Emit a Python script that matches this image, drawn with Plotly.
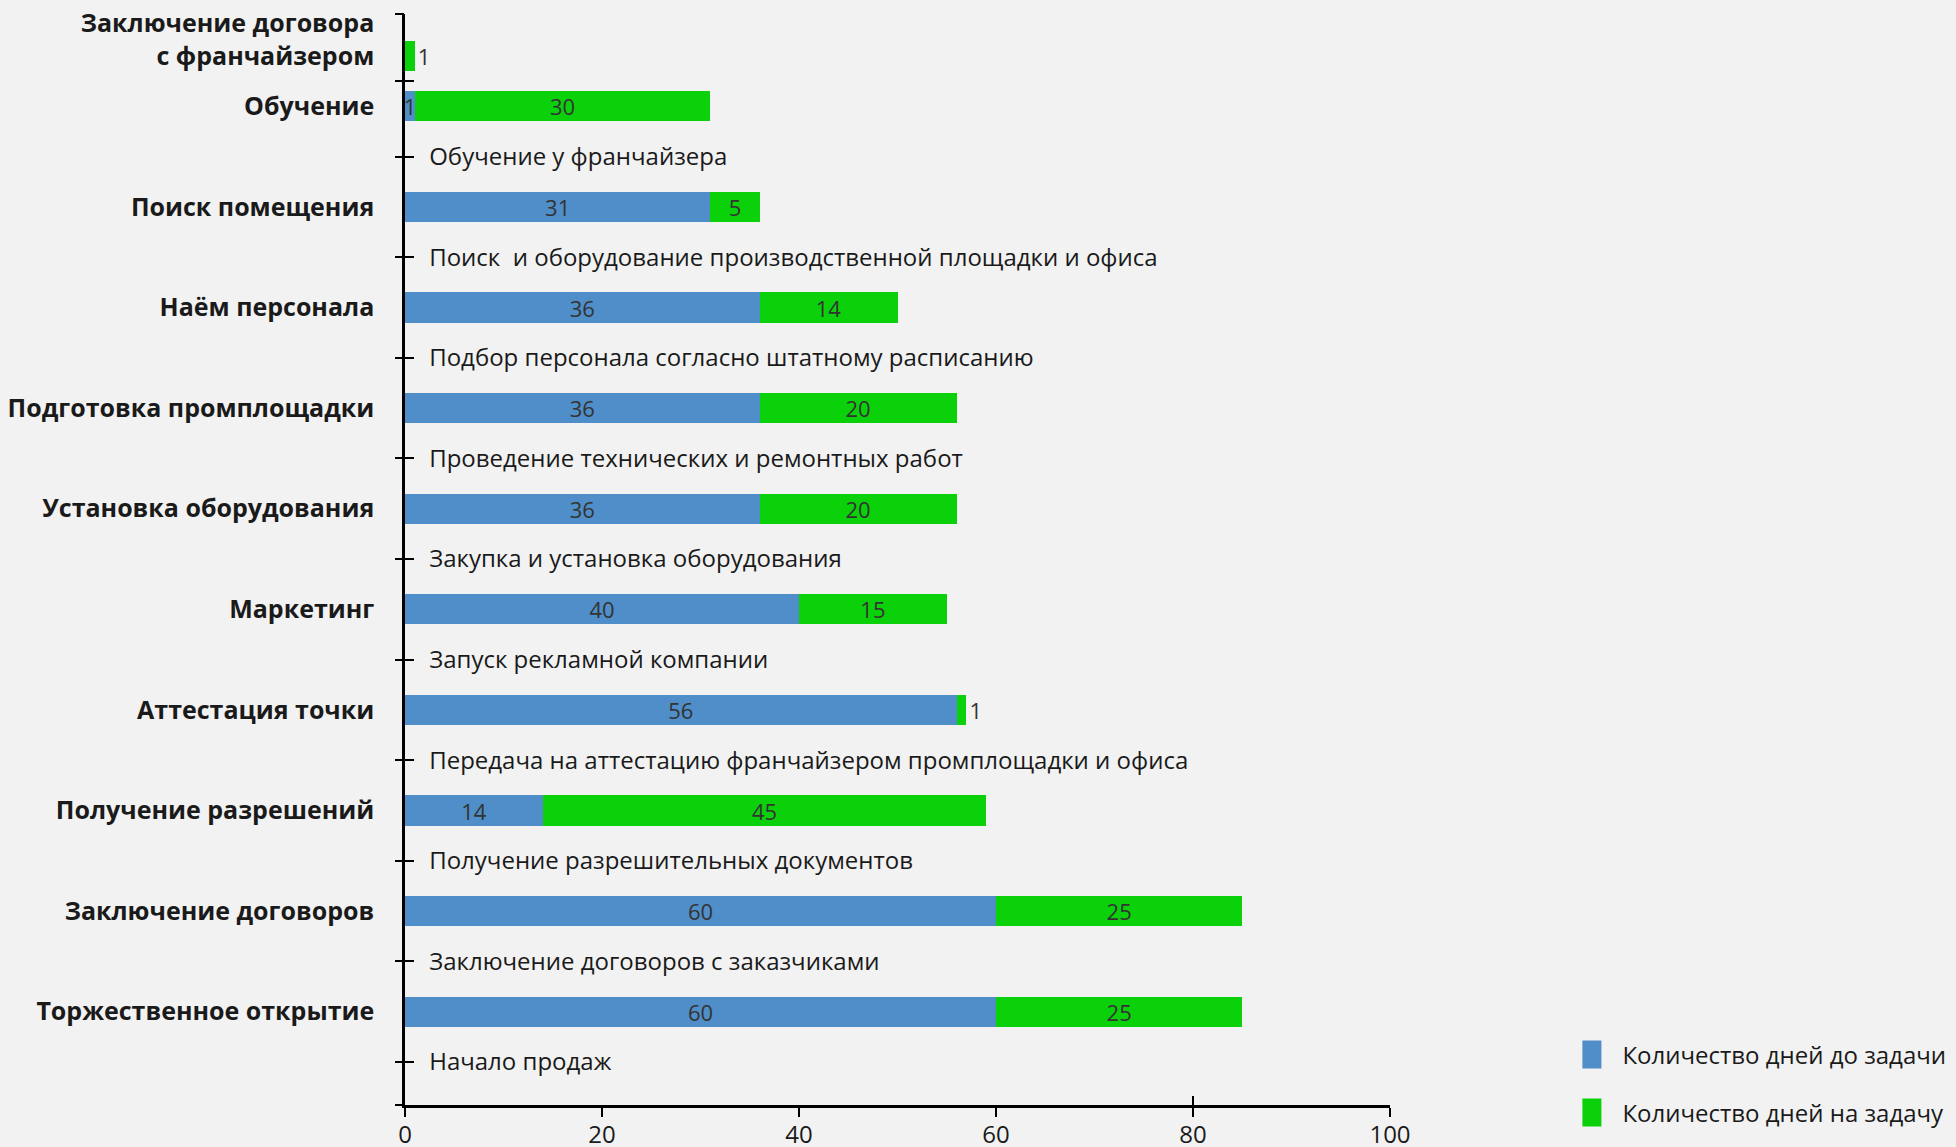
import plotly.graph_objects as go

# Franchise launch plan: tasks, what happens at each step, and day counts
tasks = [
    "Заключение договора<br>с франчайзером",
    "Обучение",
    "Поиск помещения",
    "Наём персонала",
    "Подготовка промплощадки",
    "Установка оборудования",
    "Маркетинг",
    "Аттестация точки",
    "Получение разрешений",
    "Заключение договоров",
    "Торжественное открытие",
]
steps = [
    "",
    "Обучение у франчайзера",
    "Поиск  и оборудование производственной площадки и офиса",
    "Подбор персонала согласно штатному расписанию",
    "Проведение технических и ремонтных работ",
    "Закупка и установка оборудования",
    "Запуск рекламной компании",
    "Передача на аттестацию франчайзером промплощадки и офиса",
    "Получение разрешительных документов",
    "Заключение договоров с заказчиками",
    "Начало продаж",
]
days_before = [0, 1, 31, 36, 36, 36, 40, 56, 14, 60, 60]
days_on = [1, 30, 5, 14, 20, 20, 15, 1, 45, 25, 25]
x_ticks = [0, 20, 40, 60, 80, 100]

BLUE = "#4F8EC9"
GREEN = "#0BD10B"
INK = "#1a1a1a"
VALUE_INK = "#333333"
FONT = "Open Sans"

# every task row is followed by a row for its step description;
# a task without a description gets only a tick just below its bar
rows = []
for task, step in zip(tasks, steps):
    rows.append(task)
    if step:
        rows.append(step)

step_ticks = [
    rows.index(step) if step else rows.index(task) + 0.5
    for task, step in zip(tasks, steps)
]
y_range = [len(rows) - 0.145, -0.835]


def task_label(name):
    # two-line names sit a little higher, clear of the row below
    text = f"<b>{name}</b>"
    return text + "<br> " if "<br>" in name else text


cat_axis = dict(
    type="category",
    categoryorder="array",
    categoryarray=rows,
    range=y_range,
    showgrid=False,
    zeroline=False,
    automargin=False,
    fixedrange=True,
)


def labels(values):
    return [str(v) if v else "" for v in values]


fig = go.Figure()

fig.add_trace(go.Bar(
    orientation="h",
    y=tasks,
    x=days_before,
    name="Количество дней до задачи",
    legendgroup="before",
    marker=dict(color=BLUE, line=dict(width=0)),
    text=labels(days_before),
    textposition="inside",
    insidetextanchor="middle",
    textangle=0,
    constraintext="none",
    textfont=dict(family=FONT, size=22, color=VALUE_INK),
    hoverinfo="skip",
))
fig.add_trace(go.Bar(
    orientation="h",
    y=tasks,
    x=days_on,
    name="Количество дней на задачу",
    legendgroup="on",
    marker=dict(color=GREEN, line=dict(width=0)),
    text=labels(days_on),
    textposition="auto",
    insidetextanchor="middle",
    textangle=0,
    constraintext="none",
    textfont=dict(family=FONT, size=22, color=VALUE_INK),
    hoverinfo="skip",
))

# carriers for the overlaid tick axes (nothing visible)
described = [s for s in steps if s]
fig.add_trace(go.Scatter(
    x=[0] * len(described), y=described, xaxis="x", yaxis="y2",
    mode="markers", marker=dict(opacity=0), showlegend=False, hoverinfo="skip",
))
fig.add_trace(go.Scatter(
    x=[0] * len(described), y=described, xaxis="x2", yaxis="y3",
    mode="markers", marker=dict(opacity=0), showlegend=False, hoverinfo="skip",
))

fig.update_layout(
    template="none",
    width=1956,
    height=1147,
    margin=dict(l=405, r=566, t=14, b=42, pad=0),
    paper_bgcolor="#f2f2f2",
    plot_bgcolor="rgba(0,0,0,0)",
    font=dict(family=FONT, size=25, color=INK),
    barmode="stack",
    bargap=0.4,
    showlegend=True,
    legend=dict(
        xref="container", yref="container",
        x=0.809, xanchor="left",
        y=0.1, yanchor="top",
        traceorder="grouped",
        tracegroupgap=24,
        bgcolor="rgba(0,0,0,0)",
        font=dict(family=FONT, size=24, color=INK),
    ),
    xaxis=dict(
        range=[0, 100],
        tickmode="array",
        tickvals=x_ticks,
        ticks="outside", ticklen=9, tickwidth=2, tickcolor="black",
        ticklabelstandoff=-3,
        showline=True, linecolor="black", linewidth=2.5,
        showgrid=False, zeroline=False, automargin=False, fixedrange=True,
        tickfont=dict(family=FONT, size=24, color=INK),
        anchor="y",
    ),
    xaxis2=dict(
        range=[0, 100],
        overlaying="x",
        anchor="y",
        side="bottom",
        tickmode="array",
        tickvals=x_ticks,
        ticks="inside", ticklen=9, tickwidth=2, tickcolor="black",
        showticklabels=False,
        showline=False, showgrid=False, zeroline=False,
        automargin=False, fixedrange=True,
    ),
    yaxis=dict(
        **cat_axis,
        anchor="x",
        showline=True, linecolor="black", linewidth=2.5,
        tickmode="array",
        tickvals=tasks,
        ticktext=[task_label(t) for t in tasks],
        ticks="",
        ticklabelstandoff=23,
        tickfont=dict(family=FONT, size=25, color=INK),
    ),
    yaxis2=dict(
        **cat_axis,
        overlaying="y",
        anchor="x",
        side="left",
        tickmode="array",
        tickvals=step_ticks + y_range,
        ticks="outside", ticklen=9, tickwidth=2, tickcolor="black",
        showticklabels=False,
        showline=False,
    ),
    yaxis3=dict(
        **cat_axis,
        overlaying="y",
        anchor="x",
        side="left",
        tickmode="array",
        tickvals=step_ticks + y_range,
        ticktext=steps + ["", ""],
        ticks="inside", ticklen=9, tickwidth=2, tickcolor="black",
        ticklabelposition="inside",
        ticklabelstandoff=17,
        tickfont=dict(family=FONT, size=24, color=INK),
        showline=False,
    ),
)

# larger square swatches in the legend, set next to the entry text
legend_swatches = """
var gd = document.getElementById('{plot_id}');
gd.querySelectorAll('.legend .legendpoints path').forEach(function (p) {
    p.setAttribute('d', 'M-1,14H-29V-14H-1Z');
});
"""

fig.write_html("out.html", post_script=legend_swatches)
